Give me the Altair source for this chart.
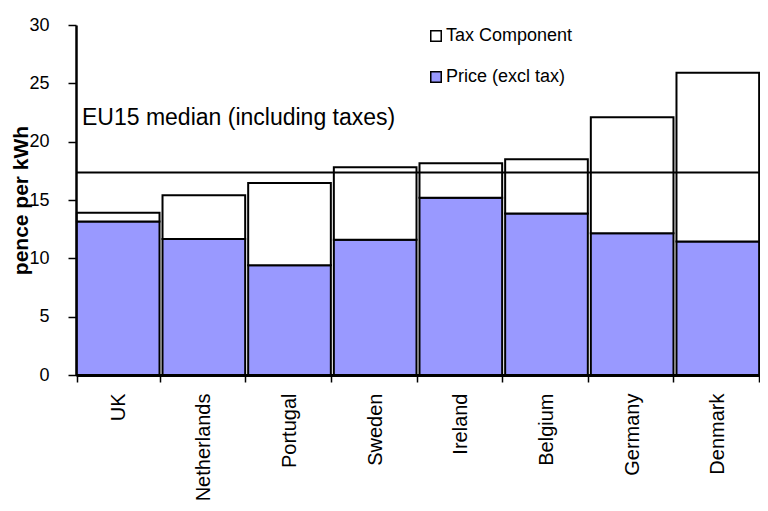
import altair as alt
import pandas as pd

countries = ["UK", "Netherlands", "Portugal", "Sweden", "Ireland", "Belgium", "Germany", "Denmark"]
price_excl_tax = [13.15, 11.65, 9.4, 11.6, 15.2, 13.85, 12.15, 11.45]
total_incl_tax = [13.9, 15.4, 16.45, 17.8, 18.15, 18.5, 22.1, 25.9]
eu15_median = [17.35]
median_label = ["EU15 median (including taxes)"]
median_label_y = [22.0]
y_ticks = [0, 5, 10, 15, 20, 25, 30]

TAX = "Tax Component"
PRICE = "Price (excl tax)"
FONT = "Liberation Sans, Arial"

rows = []
for c, p, t in zip(countries, price_excl_tax, total_incl_tax):
    rows.append({"country": c, "component": PRICE, "value": p, "ord": 0})
    rows.append({"country": c, "component": TAX, "value": round(t - p, 3), "ord": 1})
df = pd.DataFrame(rows)

bars = alt.Chart(df).mark_bar(stroke="black", strokeWidth=2, strokeJoin="miter").encode(
    x=alt.X(
        "country:N",
        sort=countries,
        title=None,
        scale=alt.Scale(paddingInner=0.035, paddingOuter=0.01),
        axis=alt.Axis(
            labelAngle=270,
            labelFont=FONT,
            labelFontSize=20,
            labelColor="black",
            labelPadding=11,
            tickBand="extent",
            tickSize=7,
            tickWidth=1.5,
            tickColor="black",
            domainColor="black",
            domainWidth=3,
        ),
    ),
    y=alt.Y(
        "value:Q",
        stack="zero",
        title="pence per kWh",
        scale=alt.Scale(domain=[0, 30], nice=False),
        axis=alt.Axis(
            values=y_ticks,
            labelFont=FONT,
            labelFontSize=18,
            labelColor="black",
            labelPadding=19,
            tickSize=8,
            tickWidth=1.5,
            tickColor="black",
            domainColor="black",
            domainWidth=2.5,
            titleFont=FONT,
            titleFontSize=21,
            titleFontWeight="bold",
            titleColor="black",
            titlePadding=-3,
            grid=False,
        ),
    ),
    color=alt.Color(
        "component:N",
        scale=alt.Scale(domain=[TAX, PRICE], range=["white", "#9999FF"]),
        legend=alt.Legend(
            title=None,
            orient="none",
            legendX=351,
            legendY=2,
            symbolType="square",
            symbolSize=110,
            symbolStrokeColor="black",
            symbolStrokeWidth=1.5,
            labelFont=FONT,
            labelFontSize=18,
            labelColor="black",
            labelOffset=1,
            rowPadding=23,
        ),
    ),
    order=alt.Order("ord:Q"),
)

rule = alt.Chart(pd.DataFrame({"m": eu15_median})).mark_rule(color="black", strokeWidth=2).encode(
    y="m:Q"
)

label = alt.Chart(pd.DataFrame({"t": median_label, "y": median_label_y})).mark_text(
    align="left", baseline="middle", font=FONT, fontSize=23, color="black"
).encode(y="y:Q", x=alt.value(6), text="t:N")

chart = (
    alt.layer(bars, rule, label)
    .properties(
        width=684,
        height=350,
        autosize=alt.AutoSizeParams(type="none"),
        padding={"left": 68, "top": 17, "right": 0, "bottom": 127},
    )
    .configure_view(stroke=None)
)

chart.save("out.html", embed_options={"renderer": "svg", "actions": False})
